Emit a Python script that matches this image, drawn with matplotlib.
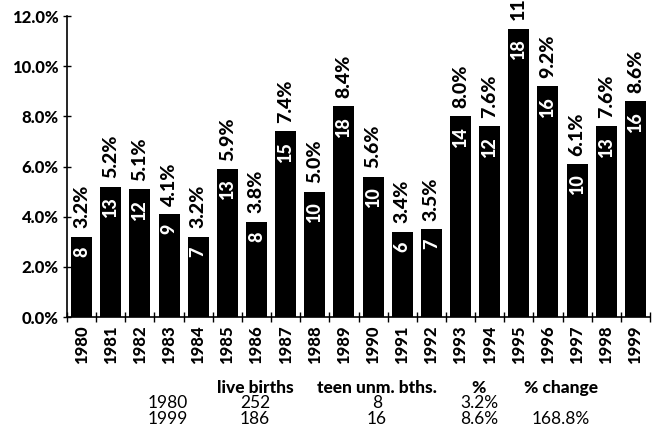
import matplotlib
matplotlib.use("Agg")
import matplotlib.pyplot as plt
import numpy as np

plt.rcParams['font.family'] = ['Lato', 'DejaVu Sans']

years = [str(y) for y in range(1980, 2000)]
pct = [3.2, 5.2, 5.1, 4.1, 3.2, 5.9, 3.8, 7.4, 5.0, 8.4,
       5.6, 3.4, 3.5, 8.0, 7.6, 11.5, 9.2, 6.1, 7.6, 8.6]
counts = [8, 13, 12, 9, 7, 13, 8, 15, 10, 18,
          10, 6, 7, 14, 12, 18, 16, 10, 13, 16]

table_header = ["live births", "teen unm. bths.", "%", "% change"]
table_rows = [
    ["1980", "252", "8", "3.2%", ""],
    ["1999", "186", "16", "8.6%", "168.8%"],
]

fig = plt.figure(figsize=(6.53, 4.40), dpi=100)
ax = fig.add_axes([67 / 653, 1 - 317 / 440, 583 / 653, 301 / 440])

x = np.arange(len(years))
bars = ax.bar(x, pct, width=0.72, color='black')

for xi, p, c in zip(x, pct, counts):
    ax.annotate(f"{p:.1f}%", (xi, p), xytext=(0, 6), textcoords='offset points',
                rotation=90, ha='center', va='bottom', fontsize=14,
                fontweight='black', annotation_clip=False)
    ax.annotate(str(c), (xi, p), xytext=(0, -7), textcoords='offset points',
                rotation=90, ha='center', va='top', fontsize=13,
                fontweight='black', color='white')

ax.set_xlim(-0.5, len(years) - 0.5)
ax.set_ylim(0, 12)
ax.set_yticks(np.arange(0, 13, 2))
ax.set_yticklabels([f"{v:.1f}%" for v in np.arange(0, 13, 2)],
                   fontsize=12, fontweight='black')
ax.set_xticks(x)
ax.set_xticklabels(years, rotation=90, fontsize=12, fontweight='black')
ax.set_xticks(np.arange(-0.5, len(years), 1), minor=True)
ax.tick_params(axis='x', which='major', length=0, pad=6)
ax.tick_params(axis='x', which='minor', direction='inout', length=7, width=1)
ax.tick_params(axis='y', direction='inout', length=6, width=1, pad=3)

for s in ['top', 'right']:
    ax.spines[s].set_visible(False)
for s in ['left', 'bottom']:
    ax.spines[s].set_linewidth(1.2)

# summary table under the chart
col_x = [148, 255, 377, 479, 561]
hdr_y = 388
row_y = [403, 419]
for cx, h in zip(col_x[1:], table_header):
    fig.text(cx / 653, 1 - hdr_y / 440, h, ha='center', va='center',
             fontsize=12.5, fontweight='black')
for ry, row in zip(row_y, table_rows):
    for i, (cx, val) in enumerate(zip(col_x, row)):
        fig.text(cx / 653, 1 - ry / 440, val,
                 ha='left' if i == 0 else 'center', va='center', fontsize=12.5)

fig.savefig("out.png", dpi=100)
